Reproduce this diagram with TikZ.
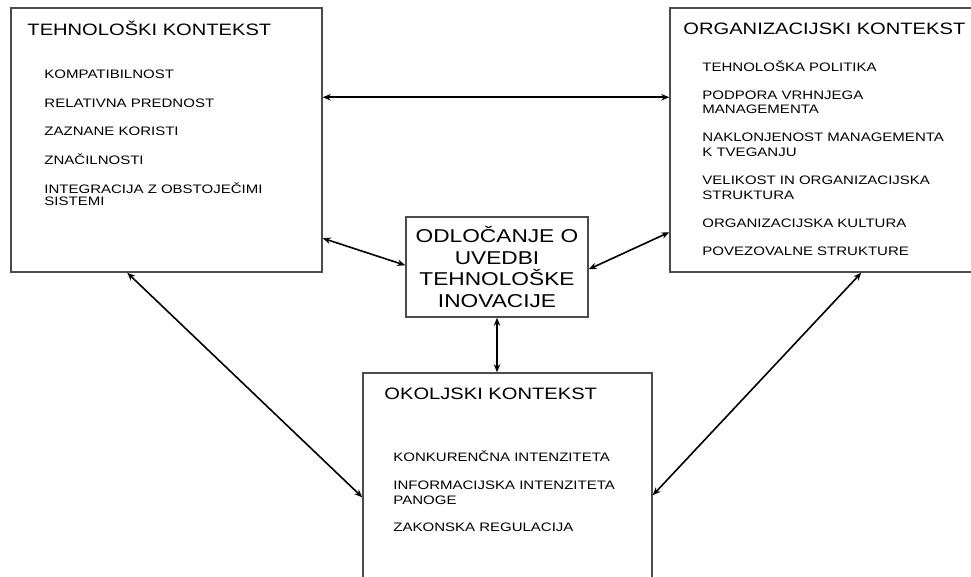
\documentclass[tikz,border=0pt]{standalone}
\usepackage{fontspec}
\newfontfamily\diagfont[FakeStretch=1.22]{Liberation Sans}
\usetikzlibrary{positioning,chains,calc,arrows.meta}

\begin{document}
\begin{tikzpicture}[x=1pt,y=-1pt,
        ctxbox/.style={draw=black!70,line width=1.5pt,inner sep=0pt},
        ttl/.style={anchor=base west,inner sep=0pt,font=\diagfont\fontsize{16.5}{19}\selectfont},
        item/.style={inner sep=0pt,text width=265pt,align=left,text height=8.8pt,
                     font=\diagfont\fontsize{12.3}{#1}\selectfont},
        item/.default=14.7,
        twoway/.style={line width=1.6pt,{Stealth[length=8pt,width=6.5pt]}-{Stealth[length=8pt,width=6.5pt]}}
        ]
        \useasboundingbox (0,0) rectangle (971,576);
        \clip (0,0) rectangle (971,576);

        % the four boxes
        \node[ctxbox,minimum width=311pt,minimum height=264pt] (tech) at (166.5,140) {};
        \node[ctxbox,minimum width=320pt,minimum height=264pt] (org) at (830,140) {};
        \node[ctxbox,minimum width=289pt,minimum height=227pt] (env) at (507.5,486.5) {};
        \node[ctxbox,minimum width=182pt,minimum height=100pt,align=center,
              font=\diagfont\fontsize{18.6}{21.5}\selectfont] (dec) at (497,267)
              {ODLOČANJE O\\UVEDBI\\TEHNOLOŠKE\\INOVACIJE};

        % the titles
        \node[ttl] (techtitle) at ($(tech.north west)+(17,28)$) {TEHNOLOŠKI KONTEKST};
        \node[ttl] (orgtitle) at ($(org.north west)+(14,27)$) {ORGANIZACIJSKI KONTEKST};
        \node[ttl] (envtitle) at ($(env.north west)+(22,27)$) {OKOLJSKI KONTEKST};

        % the factors of the technology
        \begin{scope}[start chain=going below,node distance=19.5pt]
        \node[item=12,on chain,anchor=north west] (t1) at ($(tech.north west)+(34,62)$) {KOMPATIBILNOST};
        \node[item=12,on chain] (t2) {RELATIVNA PREDNOST};
        \node[item=12,on chain] (t3) {ZAZNANE KORISTI};
        \node[item=12,on chain] (t4) {ZNAČILNOSTI};
        \node[item=12,on chain] (t5) {INTEGRACIJA Z OBSTOJEČIMI\\SISTEMI};
        \end{scope}

        % the factors of the organization
        \begin{scope}[start chain=going below,node distance=18.7pt]
        \node[item,on chain,anchor=north west] (o1) at ($(org.north west)+(33,55)$) {TEHNOLOŠKA POLITIKA};
        \node[item,on chain] (o2) {PODPORA VRHNJEGA\\MANAGEMENTA};
        \node[item,on chain] (o3) {NAKLONJENOST MANAGEMENTA\\K TVEGANJU};
        \node[item,on chain] (o4) {VELIKOST IN ORGANIZACIJSKA\\STRUKTURA};
        \node[item,on chain] (o5) {ORGANIZACIJSKA KULTURA};
        \node[item,on chain] (o6) {POVEZOVALNE STRUKTURE};
        \end{scope}

        % the factors of the environment
        \begin{scope}[start chain=going below,node distance=18.5pt]
        \node[item=15,on chain,anchor=north west] (e1) at ($(env.north west)+(31,80)$) {KONKURENČNA INTENZITETA};
        \node[item=15,on chain] (e2) {INFORMACIJSKA INTENZITETA\\PANOGE};
        \node[item=15,on chain] (e3) {ZAKONSKA REGULACIJA};
        \end{scope}

        % the links
        \draw[twoway] ($(tech.north east)+(0,90)$) -- ($(org.north west)+(0,90)$);
        \draw[twoway] ($(tech.north east)+(0,231)$) -- ($(dec.north west)+(0,49)$);
        \draw[twoway] ($(dec.north east)+(0,53)$) -- ($(org.north west)+(0,225)$);
        \draw[twoway] (dec.south) -- (dec.south |- env.north);
        \draw[twoway] ($(tech.south west)+(117,0)$) -- ($(env.north west)+(0,125)$);
        \draw[twoway] ($(org.south west)+(192,0)$) -- ($(env.north east)+(0,123)$);
\end{tikzpicture}
\end{document}
